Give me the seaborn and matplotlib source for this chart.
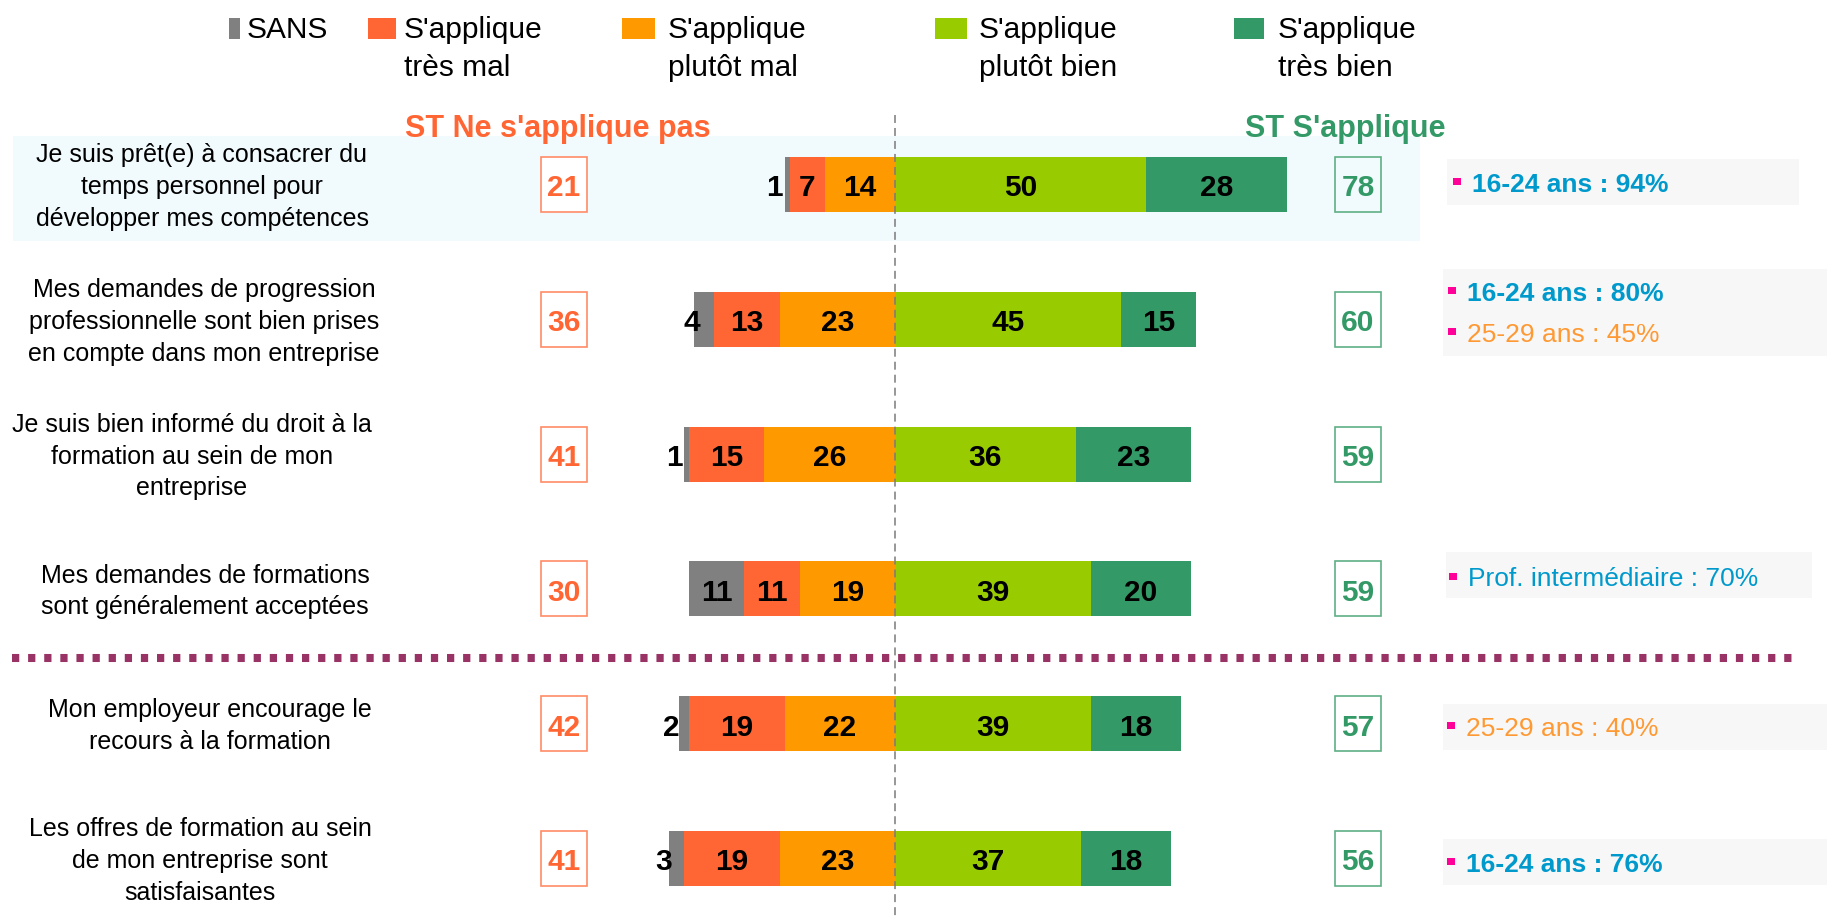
import numpy as np
import pandas as pd
import matplotlib
matplotlib.use("Agg")
import matplotlib.pyplot as plt
from matplotlib.patches import Rectangle
import seaborn as sns

sns.set_style("white")
plt.rcParams["font.family"] = ["Liberation Sans", "DejaVu Sans"]

# ---- data ----
statements = [
    "Je suis prêt(e) à consacrer du\ntemps personnel pour\ndévelopper mes compétences",
    "Mes demandes de progression\nprofessionnelle sont bien prises\nen compte dans mon entreprise",
    "Je suis bien informé du droit à la\nformation au sein de mon\nentreprise",
    "Mes demandes de formations\nsont généralement acceptées",
    "Mon employeur encourage le\nrecours à la formation",
    "Les offres de formation au sein\nde mon entreprise sont\nsatisfaisantes",
]
sans = [1, 4, 1, 11, 2, 3]
tres_mal = [7, 13, 15, 11, 19, 19]
plutot_mal = [14, 23, 26, 19, 22, 23]
plutot_bien = [50, 45, 36, 39, 39, 37]
tres_bien = [28, 15, 23, 20, 18, 18]
st_neg = [21, 36, 41, 30, 42, 41]
st_pos = [78, 60, 59, 59, 57, 56]

legend_labels = ["SANS", "S'applique\ntrès mal", "S'applique\nplutôt mal",
                 "S'applique\nplutôt bien", "S'applique\ntrès bien"]
colors = ["#808080", "#FF6633", "#FF9900", "#99CC00", "#339966"]

note_texts = [["16-24 ans : 94%"], ["16-24 ans : 80%", "25-29 ans : 45%"], [],
              ["Prof. intermédiaire : 70%"], ["25-29 ans : 40%"], ["16-24 ans : 76%"]]
note_colors = [["#0099CC"], ["#0099CC", "#FF9933"], [], ["#0099CC"], ["#FF9933"], ["#0099CC"]]
note_weights = [["bold"], ["bold", "normal"], [], ["normal"], ["normal"], ["bold"]]

df = pd.DataFrame({"item": statements, "sans": sans, "tres_mal": tres_mal,
                   "plutot_mal": plutot_mal, "plutot_bien": plutot_bien,
                   "tres_bien": tres_bien})

# ---- layout (pixel geometry of the 1827x920 canvas) ----
X0, XS = 895, 5.02     # pixel of the zero line, pixels per percentage point
Y0, YS = 185.5, 134.8  # pixel of the first row, pixels per row


def px_x(p):
    return (p - X0) / XS


def px_y(p):
    return (p - Y0) / YS


BAR_H = 0.408

fig = plt.figure(figsize=(18.27, 9.2), dpi=100)
ax = fig.add_axes([0, 0, 1, 1])

# highlighted first row
ax.add_patch(Rectangle((px_x(13), px_y(137)), (1420 - 13) / XS, (242 - 137) / YS,
                       fc="#F1FAFD", ec="none", zorder=0))

# stacked diverging bars: draw cumulative layers, widest first
df["neg_all"] = -(df.sans + df.tres_mal + df.plutot_mal)
df["neg_mid"] = -(df.tres_mal + df.plutot_mal)
df["neg_in"] = -df.plutot_mal
df["pos_all"] = df.plutot_bien + df.tres_bien
df["pos_in"] = df.plutot_bien
for col, c in zip(["neg_all", "neg_mid", "neg_in", "pos_all", "pos_in"],
                  [colors[0], colors[1], colors[2], colors[4], colors[3]]):
    sns.barplot(data=df, x=col, y="item", color=c, width=BAR_H, saturation=1,
                errorbar=None, orient="h", ax=ax, zorder=2, linewidth=0,
                edgecolor="none")

# segment labels
for i in range(len(df)):
    r = df.iloc[i]
    vals = [r.sans, r.tres_mal, r.plutot_mal, r.plutot_bien, r.tres_bien]
    edges = [r.neg_all, r.neg_mid, r.neg_in, 0, r.pos_in, r.pos_all]
    for j, v in enumerate(vals):
        xc = (edges[j] + edges[j + 1]) / 2
        if j == 0 and v < 5:
            xc -= 2.5
        ax.text(xc, i, f"{v}", ha="center", va="center_baseline", fontsize=21.5,
                fontweight="bold", color="black", zorder=4)

# zero line and separator
ax.plot([0, 0], [px_y(116), px_y(920)], color="#7A7A7A", lw=1.1,
        ls=(0, (5.2, 3.3)), zorder=3)
ax.plot([px_x(12), px_x(1800)], [px_y(659), px_y(659)], color="#993366",
        lw=5.8, ls=(0, (0.9, 1.1)), zorder=3)

# row labels, one line at a time
label_cx = [202, 204, 192, 205, 210, 200]
for i, lab in enumerate(statements):
    lines = lab.split("\n")
    n = len(lines)
    for k, line in enumerate(lines):
        ax.text(px_x(label_cx[i]), i + (8.5 + (k - (n - 1) / 2) * 31.7) / YS, line,
                ha="center", va="baseline", fontsize=18, color="black")

# sub-total boxes
BOX_W, BOX_H = 46 / XS, 55 / YS
for i in range(len(df)):
    xl, xr = px_x(564), px_x(1358)
    ax.add_patch(Rectangle((xl - BOX_W / 2, i - BOX_H / 2), BOX_W, BOX_H,
                           fc="white", ec="#FF8C66", lw=1.2, zorder=2))
    ax.text(xl, i, f"{st_neg[i]}", ha="center", va="center_baseline",
            fontsize=21.5, fontweight="bold", color="#FF6633", zorder=4)
    ax.add_patch(Rectangle((xr - BOX_W / 2, i - BOX_H / 2), BOX_W, BOX_H,
                           fc="none", ec="#5FAF85", lw=1.2, zorder=2))
    ax.text(xr, i, f"{st_pos[i]}", ha="center", va="center_baseline",
            fontsize=21.5, fontweight="bold", color="#339966", zorder=4)

ax.text(px_x(558), px_y(136.8), "ST Ne s'applique pas", ha="center", va="baseline",
        fontsize=22, fontweight="bold", color="#FF6633")
ax.text(px_x(1345), px_y(136.8), "ST S'applique", ha="center", va="baseline",
        fontsize=22, fontweight="bold", color="#339966")

# legend drawn by hand (irregular spacing in the reference)
mark_x = [229, 368, 622, 935, 1234]
mark_w = [11, 28, 33, 32, 30]
text_x = [247, 404, 668, 979, 1278]
for lab, c, mx, mw, tx in zip(legend_labels, colors, mark_x, mark_w, text_x):
    ax.add_patch(Rectangle((px_x(mx), px_y(19)), mw / XS, 21 / YS, fc=c, ec="none"))
    for k, line in enumerate(lab.split("\n")):
        ax.text(px_x(tx), px_y(38 + 38 * k), line, ha="left", va="baseline",
                fontsize=21.5, color="black")

# side notes
note_box = [(1447, 160, 1799, 206), (1443, 270, 1827, 357), None,
            (1446, 553, 1812, 599), (1443, 705, 1827, 751), (1443, 840, 1827, 886)]
note_x = [1472, 1467, None, 1468, 1466, 1466]
note_base = [[191.7], [300.7, 341.7], [], [586.5], [735.5], [871.5]]
for i in range(len(df)):
    if note_box[i] is None:
        continue
    x1, y1, x2, y2 = note_box[i]
    ax.add_patch(Rectangle((px_x(x1), px_y(y1)), (x2 - x1) / XS, (y2 - y1) / YS,
                           fc="#F7F7F7", ec="none", zorder=1))
    for t, c, w, b in zip(note_texts[i], note_colors[i], note_weights[i], note_base[i]):
        ax.add_patch(Rectangle((px_x(note_x[i] - 19), px_y(b - 13)), 8 / XS, 7 / YS,
                               fc="#FF0099", ec="none", zorder=2))
        ax.text(px_x(note_x[i]), px_y(b), t, ha="left", va="baseline", fontsize=19,
                fontweight=w, color=c, zorder=3)

ax.set_xlim(px_x(0), px_x(1827))
ax.set_ylim(px_y(920), px_y(0))
ax.axis("off")

fig.savefig("out.png", dpi=100)
